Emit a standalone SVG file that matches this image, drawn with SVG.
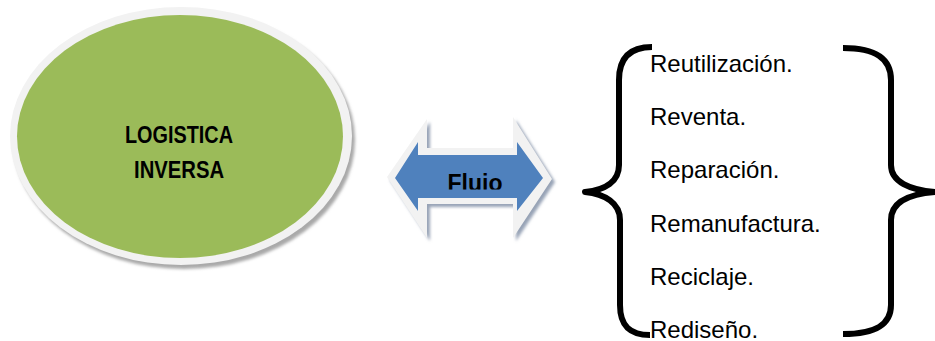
<svg xmlns="http://www.w3.org/2000/svg" width="935" height="341" viewBox="0 0 935 341">
  <style>
    .item { font-family: "Liberation Sans", Arial, sans-serif; font-size: 24px; fill: #000; }
    .bold { font-family: "Liberation Sans", Arial, sans-serif; font-weight: bold; fill: #000; }
    .brace { fill: none; stroke: #000; stroke-width: 6; stroke-linecap: butt; stroke-linejoin: round; }
  </style>
  <defs>
    <filter id="soft" x="-10%" y="-10%" width="120%" height="120%">
      <feGaussianBlur stdDeviation="1.5"/>
    </filter>
    <clipPath id="labelClip">
      <rect x="430" y="150" width="90" height="39.5"/>
    </clipPath>
  </defs>
  <rect width="935" height="341" fill="#fff"/>

  <!-- Central concept -->
  <g id="logistica-inversa">
    <ellipse cx="184" cy="140" rx="171" ry="129" fill="#a9a9a9" filter="url(#soft)"/>
    <ellipse cx="181" cy="136" rx="171" ry="129" fill="#f2f2f2"/>
    <ellipse cx="180" cy="136.5" rx="163" ry="121.5" fill="#9bbb59"/>
    <text class="bold" font-size="24" x="125" y="143" textLength="108" lengthAdjust="spacingAndGlyphs">LOGISTICA</text>
    <text class="bold" font-size="24" x="134" y="178" textLength="90" lengthAdjust="spacingAndGlyphs">INVERSA</text>
  </g>

  <!-- Two-way flow arrow -->
  <g id="flujo">
    <polygon points="390,180 430,122 430,151 516,151 516,120 555,182 516,241 516,207 430,207 430,241" fill="#97a3b6" filter="url(#soft)"/>
    <polygon points="387,177 427,119 427,148 513,148 513,117 552,179 513,238 513,204 427,204 427,238" fill="#f2f2f2"/>
    <polygon points="395,178 418,142 418,155 517,155 517,142 543,178 517,211 517,198 418,198 418,211" fill="#4f81bd"/>
    <text class="bold" font-size="23" x="475" y="190.5" text-anchor="middle" clip-path="url(#labelClip)">Flujo</text>
  </g>

  <!-- Braces enclosing the list -->
  <g id="connectors">
    <path class="brace" d="M652,47 C630,47 619,58 619,80 L619,165 C619,182 605,190 585,192 C605,194 620,203 620,220 L620,305 C620,326 630,335 650,335"/>
    <path class="brace" d="M843,48 C875,48 891,58 891,80 L891,165 C891,182 910,190 935,192 C910,194 891,202 891,220 L891,305 C891,325 875,334 843,334"/>
  </g>

  <!-- Recovery options -->
  <g id="opciones">
    <text class="item" x="650" y="72">Reutilización.</text>
    <text class="item" x="650" y="125">Reventa.</text>
    <text class="item" x="650" y="178">Reparación.</text>
    <text class="item" x="650" y="232">Remanufactura.</text>
    <text class="item" x="650" y="285">Reciclaje.</text>
    <text class="item" x="650" y="338">Rediseño.</text>
  </g>
</svg>
